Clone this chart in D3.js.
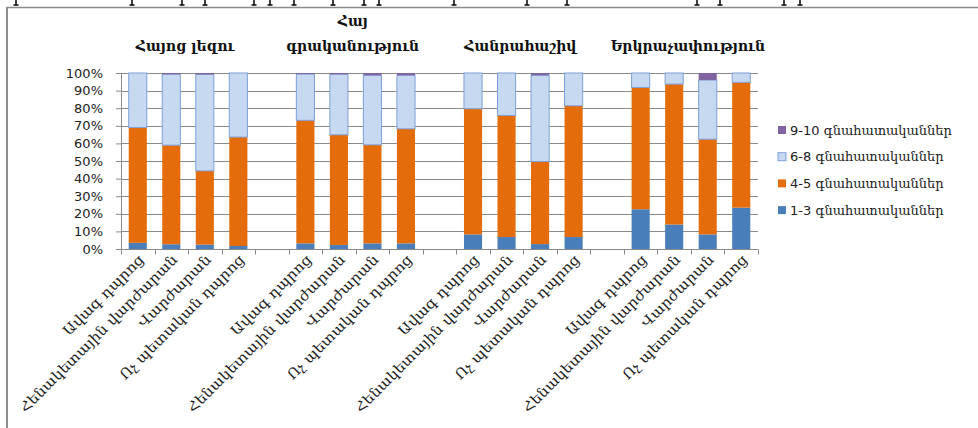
<!DOCTYPE html>
<html>
<head>
<meta charset="utf-8">
<script src="https://cdn.jsdelivr.net/npm/d3@7"></script>
<style>
  html, body { margin: 0; padding: 0; background: #fff; }
  svg { display: block; }
</style>
</head>
<body>
<svg id="chart" width="978" height="428"></svg>
<script>
// Subjects (groups) and school types (bars inside each group)
const subjects = ["Հայոց լեզու", "Հայ գրականություն", "Հանրահաշիվ", "Երկրաչափություն"];
const subjectLines = [["Հայոց լեզու"], ["Հայ", "գրականություն"], ["Հանրահաշիվ"], ["Երկրաչափություն"]];
const schoolTypes = ["Ավագ դպրոց", "Հենակետային վարժարան", "Վարժարան", "Ոչ պետական դպրոց"];

// Grade bands (stack order, bottom to top)
const seriesKeys = ["g13", "g45", "g68", "g910"];
const seriesNames = ["1-3 գնահատականներ", "4-5 գնահատականներ", "6-8 գնահատականներ", "9-10 գնահատականներ"];
const seriesColors = ["#4a7ebb", "#e46c0a", "#c6d9f1", "#8064a2"];

// Share of students per grade band, % (subject by subject, four school types each)
const grade13 = [3.5, 2.7, 2.5, 1.7, 3.2, 2.3, 3.2, 3.2, 8.3, 6.8, 2.8, 6.8, 22.6, 13.9, 8.3, 23.5];
const grade45 = [65.5, 56.3, 41.9, 61.9, 69.9, 62.6, 56.0, 65.1, 71.4, 69.1, 46.9, 74.6, 69.2, 79.8, 54.1, 71.2];
const grade68 = [31.0, 40.3, 54.8, 36.4, 26.3, 34.4, 39.5, 30.4, 20.3, 24.1, 49.0, 18.6, 8.2, 6.3, 33.6, 5.3];
const grade910 = [0, 0.7, 0.8, 0, 0.6, 0.7, 1.3, 1.3, 0, 0, 1.3, 0, 0, 0, 4.0, 0];

const yTicks = [0, 10, 20, 30, 40, 50, 60, 70, 80, 90, 100];

// Build the category slots: four bars per subject, one empty slot between subjects
const rows = [];
const slots = [];
subjects.forEach((s, i) => {
  schoolTypes.forEach((t, j) => {
    const k = i * 4 + j;
    const key = `c${i}-${j}`;
    slots.push(key);
    rows.push({ key, subject: i, type: t,
      g13: grade13[k], g45: grade45[k], g68: grade68[k], g910: grade910[k] });
  });
  if (i < subjects.length - 1) slots.push(`gap${i}`);
});

const svg = d3.select("#chart");
const margin = { left: 121, right: 220, top: 73, bottom: 179 };
const W = 978, H = 428;

const x = d3.scaleBand().domain(slots).range([margin.left, W - margin.right]).padding(0);
const y = d3.scaleLinear().domain([0, 100]).range([H - margin.bottom, margin.top]);

const serif = "DejaVu Serif, serif";

// Outer frame
svg.append("line").attr("x1", 7).attr("x2", W).attr("y1", 7.5).attr("y2", 7.5)
  .attr("stroke", "#8c8c8c").attr("stroke-width", 1.5);
svg.append("line").attr("x1", 7).attr("x2", 7).attr("y1", 7).attr("y2", H)
  .attr("stroke", "#8c8c8c").attr("stroke-width", 2);

// Clipped line of text above the frame (only the glyph feet remain)
const feet = [16, 132, 182, 205, 254, 270, 294, 333, 364, 379, 454, 527, 567, 697, 720, 784, 800];
const footG = svg.append("g").attr("stroke", "#111").attr("stroke-width", 1.6);
feet.forEach(fx => {
  footG.append("line").attr("x1", fx).attr("x2", fx).attr("y1", 0).attr("y2", 5);
  footG.append("line").attr("x1", fx - 2.5).attr("x2", fx + 2.5).attr("y1", 5).attr("y2", 5);
});

// Horizontal gridlines
svg.append("g")
  .selectAll("line")
  .data(yTicks.filter(d => d > 0))
  .join("line")
  .attr("x1", margin.left).attr("x2", W - margin.right)
  .attr("y1", d => Math.round(y(d)) + 0.5).attr("y2", d => Math.round(y(d)) + 0.5)
  .attr("stroke", "#8a8a8a").attr("stroke-width", 1);

// Stacked bars
const stacked = d3.stack().keys(seriesKeys)(rows);
const barW = x.bandwidth() * 0.54;
const layers = svg.append("g")
  .selectAll("g")
  .data(stacked)
  .join("g")
  .attr("fill", (d, i) => seriesColors[i])
  .attr("stroke", (d, i) => i === 2 ? "#7f9fd8" : "none")
  .attr("stroke-width", 1);

layers.selectAll("rect")
  .data(d => d.filter(p => p[1] - p[0] > 0))
  .join("rect")
  .attr("x", p => x(p.data.key) + (x.bandwidth() - barW) / 2)
  .attr("width", barW)
  .attr("y", p => y(p[1]))
  .attr("height", p => y(p[0]) - y(p[1]));

// Y axis
const yAxis = d3.axisLeft(y).tickValues(yTicks).tickFormat(d => d + "%").tickSize(5).tickPadding(13);
const yg = svg.append("g").attr("transform", `translate(${margin.left},0)`).call(yAxis);
yg.select(".domain").attr("stroke", "#8a8a8a");
yg.selectAll(".tick line").attr("stroke", "#8a8a8a");
yg.selectAll("text").attr("font-family", "DejaVu Sans, Verdana, sans-serif")
  .attr("font-size", 13).attr("fill", "#222");

// X axis baseline with tick at every slot boundary
const base = Math.round(y(0)) + 0.5;
svg.append("line").attr("x1", margin.left).attr("x2", W - margin.right)
  .attr("y1", base).attr("y2", base).attr("stroke", "#8a8a8a");
const bounds = slots.map(s => x(s)).concat([x(slots[slots.length - 1]) + x.bandwidth()]);
svg.append("g").selectAll("line").data(bounds).join("line")
  .attr("x1", d => Math.round(d) + 0.5).attr("x2", d => Math.round(d) + 0.5)
  .attr("y1", base).attr("y2", base + 5).attr("stroke", "#8a8a8a");

// Rotated category labels (Armenian text set a little wide)
const catLabels = svg.append("g").selectAll("text")
  .data(rows)
  .join("text")
  .attr("transform", d => `translate(${x(d.key) + x.bandwidth() / 2 + 7},${base + 11}) rotate(-45)`)
  .attr("text-anchor", "end")
  .attr("font-family", serif)
  .attr("font-size", 14)
  .attr("fill", "#222")
  .text(d => d.type);
catLabels.each(function () {
  const len = this.getComputedTextLength();
  d3.select(this).attr("textLength", len * 1.1).attr("lengthAdjust", "spacingAndGlyphs");
});

// Subject titles above each group
subjects.forEach((s, i) => {
  const first = x(`c${i}-0`), last = x(`c${i}-3`) + x.bandwidth();
  const cx = (first + last) / 2 - 3;
  const lines = subjectLines[i];
  lines.forEach((ln, li) => {
    svg.append("text")
      .attr("x", cx)
      .attr("y", 51 - (lines.length - 1 - li) * 25)
      .attr("text-anchor", "middle")
      .attr("font-family", serif)
      .attr("font-weight", "bold")
      .attr("font-size", 14)
      .attr("fill", "#111")
      .text(ln);
  });
});

// Legend (top band first)
const legend = svg.append("g").attr("transform", "translate(778,122)");
const legendOrder = [3, 2, 1, 0];
legendOrder.forEach((si, r) => {
  const g = legend.append("g").attr("transform", `translate(0,${r * 26.7})`);
  g.append("rect").attr("x", 0).attr("y", 4).attr("width", 8).attr("height", 8)
    .attr("fill", seriesColors[si])
    .attr("stroke", si === 2 ? "#7f9fd8" : "none");
  const [num, word] = seriesNames[si].split(" ");
  const t = g.append("text").attr("x", 12).attr("y", 12.5)
    .attr("font-size", 13).attr("fill", "#222");
  t.append("tspan").attr("font-family", "DejaVu Sans, sans-serif").text(num + " ");
  t.append("tspan").attr("font-family", serif).text(word);
});
</script>
</body>
</html>
